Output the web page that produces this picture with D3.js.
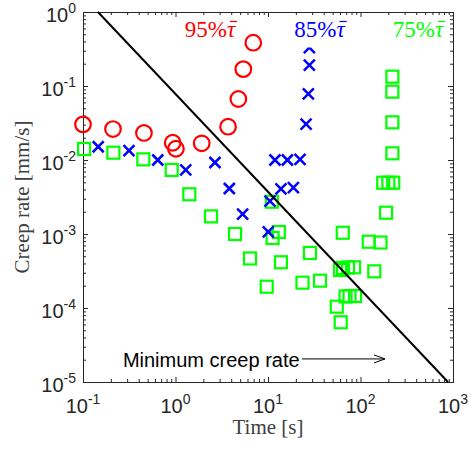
<!DOCTYPE html>
<html><head><meta charset="utf-8">
<script src="https://cdn.jsdelivr.net/npm/d3@7"></script>
<style>body{margin:0;background:#fff}</style>
</head><body><svg id="c" width="471" height="450"></svg>
<script>
// ---- data ----
const circleT = [0.100, 0.211, 0.456, 0.933, 1.01, 1.92, 3.70, 4.78, 5.41, 6.93];
const circleR = [0.0303, 0.0262, 0.0232, 0.0171, 0.0142, 0.0168, 0.0282, 0.0667, 0.169, 0.385];

const crossT = [0.146, 0.314, 0.643, 1.29, 2.67, 3.82, 5.32, 10.07, 10.5, 11.9, 16.2, 22.2, 13.8, 18.8, 25.8, 27.3, 28.0, 28.0];
const crossR = [0.0151, 0.0134, 0.0100, 0.00733, 0.00925, 0.00412, 0.00185, 0.00107, 0.00279, 0.0100, 0.0100, 0.0102, 0.00406, 0.00423, 0.0306, 0.078, 0.192, 0.331];

const squareT = [0.1026, 0.213, 0.449, 0.910, 1.41, 2.42, 4.40, 6.39, 9.68, 11.0, 13.1, 11.2, 13.8, 28.4, 23.6, 36.5, 64.3, 55.4, 61.1, 60.0, 64.7, 73.3, 85.1, 68.9, 76.1, 87.3, 122.7, 164.5, 141, 189, 176, 200, 226, 221, 221, 221, 221];
const squareR = [0.0141, 0.01255, 0.0102, 0.00733, 0.00344, 0.00173, 0.00100, 0.000467, 0.000194, 0.00273, 0.001064, 0.000883, 0.000415, 0.000554, 0.000220, 0.000234, 0.00104, 0.0001042, 0.0000641, 0.000326, 0.000347, 0.000353, 0.000355, 0.000143, 0.000145, 0.000145, 0.000787, 0.000767, 0.000313, 0.00194, 0.00493, 0.00493, 0.00493, 0.01232, 0.0323, 0.0838, 0.1336];

const minLineT = [0.145, 883];
const minLineR = [1, 1e-5];

const xTickExp = [-1, 0, 1, 2, 3];
const yTickExp = [0, -1, -2, -3, -4, -5];

const seriesLabels = ["95%", "85%", "75%"];
const seriesColors = ["#ff0000", "#0000ff", "#00ff00"];

const annText = "Minimum creep rate";
const annTextT = 0.27, annR = 2.05e-5;
const arrowT = [23.3, 184];

// ---- chart ----
const svg = d3.select("#c");
const x = d3.scaleLog().domain([0.1, 1000]).range([83, 453]);
const y = d3.scaleLog().domain([1e-5, 1]).range([382, 12]);
const axCol = "#262626";

const major = e => Math.pow(10, e);
const xMajor = xTickExp.map(major);
const yMajor = yTickExp.map(major);
function minors(lo, hi) {
  const out = [];
  for (let e = lo; e < hi; e++) for (let k = 2; k <= 9; k++) out.push(k * Math.pow(10, e));
  return out;
}
const xMinor = minors(-1, 3), yMinor = minors(-5, 0);

function drawAxis(gen, tr, vals, size) {
  const g = svg.append("g").attr("transform", tr)
    .call(gen.tickValues(vals).tickSize(size).tickSizeOuter(0).tickFormat(""));
  g.select(".domain").attr("stroke", axCol);
  g.selectAll(".tick line").attr("stroke", axCol);
  return g;
}
drawAxis(d3.axisBottom(x), "translate(0,382)", xMajor, -5);
drawAxis(d3.axisBottom(x), "translate(0,382)", xMinor, -3);
drawAxis(d3.axisTop(x), "translate(0,12)", xMajor, -5);
drawAxis(d3.axisTop(x), "translate(0,12)", xMinor, -3);
drawAxis(d3.axisLeft(y), "translate(83,0)", yMajor, -5);
drawAxis(d3.axisLeft(y), "translate(83,0)", yMinor, -3);
drawAxis(d3.axisRight(y), "translate(453,0)", yMajor, -5);
drawAxis(d3.axisRight(y), "translate(453,0)", yMinor, -3);

// tick labels
const tickFont = "'Liberation Sans', Arial, sans-serif";
xTickExp.forEach(e => {
  const t = svg.append("text").attr("x", x(major(e))).attr("y", 413)
    .attr("text-anchor", "middle").attr("font-family", tickFont).attr("fill", axCol).attr("font-size", 20);
  t.append("tspan").text("10");
  t.append("tspan").attr("font-size", 14).attr("dy", -9).text(e);
});
yTickExp.forEach(e => {
  const t = svg.append("text").attr("x", 76).attr("y", y(major(e)) + 9.5)
    .attr("text-anchor", "end").attr("font-family", tickFont).attr("fill", axCol).attr("font-size", 20);
  t.append("tspan").text("10");
  t.append("tspan").attr("font-size", 14).attr("dy", -9).text(e);
});

// axis titles
const serif = "'Liberation Serif', 'Times New Roman', serif";
svg.append("text").attr("x", 268).attr("y", 434).attr("text-anchor", "middle")
  .attr("font-family", serif).attr("font-size", 21).attr("fill", "#404040").text("Time [s]");
svg.append("text").attr("transform", "translate(28.5,197) rotate(-90)").attr("text-anchor", "middle")
  .attr("font-family", serif).attr("font-size", 21).attr("fill", "#404040").text("Creep rate [mm/s]");

// markers
const plot = svg.append("g");
plot.selectAll("rect.sq").data(squareT.map((t, i) => [t, squareR[i]])).join("rect")
  .attr("class", "sq")
  .attr("x", d => x(d[0]) - 6).attr("y", d => y(d[1]) - 6).attr("width", 12).attr("height", 12)
  .attr("fill", "none").attr("stroke", seriesColors[2]).attr("stroke-width", 2.2);

plot.selectAll("path.cr").data(crossT.map((t, i) => [t, crossR[i]])).join("path")
  .attr("class", "cr")
  .attr("d", d => {
    const cx = x(d[0]), cy = y(d[1]), h = 5.5;
    return `M${cx - h},${cy - h}L${cx + h},${cy + h}M${cx - h},${cy + h}L${cx + h},${cy - h}`;
  })
  .attr("fill", "none").attr("stroke", seriesColors[1]).attr("stroke-width", 2.5);

plot.selectAll("circle.ci").data(circleT.map((t, i) => [t, circleR[i]])).join("circle")
  .attr("class", "ci")
  .attr("cx", d => x(d[0])).attr("cy", d => y(d[1])).attr("r", 7.8)
  .attr("fill", "none").attr("stroke", seriesColors[0]).attr("stroke-width", 2.2);

// minimum creep rate line
plot.append("path")
  .attr("d", d3.line().x(d => x(d[0])).y(d => y(d[1]))(minLineT.map((t, i) => [t, minLineR[i]])))
  .attr("fill", "none").attr("stroke", "#000").attr("stroke-width", 2);

// series labels with white background, tau with a drawn bar
const lblX = [210, 319.5, 418];
seriesLabels.forEach((s, i) => {
  const g = svg.append("g");
  const rect = g.append("rect").attr("fill", "#fff");
  const t = g.append("text").attr("x", lblX[i]).attr("y", 37).attr("text-anchor", "middle")
    .attr("font-family", serif).attr("font-size", 23).attr("fill", seriesColors[i]);
  t.append("tspan").text(s);
  t.append("tspan").attr("font-style", "italic").text("\u03C4");
  const node = t.node();
  const n = s.length;
  const p0 = node.getStartPositionOfChar(n), p1 = node.getEndPositionOfChar(n);
  g.append("line").attr("x1", p0.x + 3).attr("x2", p1.x + 2).attr("y1", 21.5).attr("y2", 21.5)
    .attr("stroke", seriesColors[i]).attr("stroke-width", 1.2);
  const bb = node.getBBox();
  rect.attr("x", bb.x - 2).attr("y", 17).attr("width", bb.width + 4).attr("height", 30.5);
});

// annotation
svg.append("text").attr("x", x(annTextT)).attr("y", 366.5)
  .attr("font-family", tickFont).attr("font-size", 20).attr("fill", "#000").text(annText);
const ay = y(annR), ax0 = x(arrowT[0]), ax1 = x(arrowT[1]);
svg.append("line").attr("x1", ax0).attr("x2", ax1).attr("y1", ay).attr("y2", ay)
  .attr("stroke", "#000").attr("stroke-width", 1);
svg.append("path").attr("d", `M${ax1 - 11},${ay - 4}L${ax1},${ay}L${ax1 - 11},${ay + 4}`)
  .attr("fill", "none").attr("stroke", "#000").attr("stroke-width", 1);
</script></body></html>
